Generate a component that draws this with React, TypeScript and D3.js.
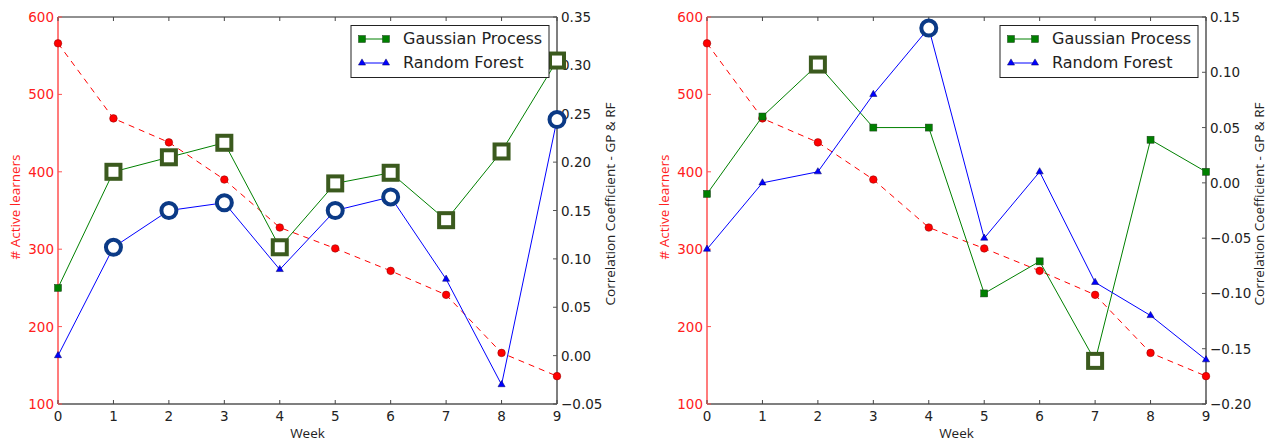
import React from "react";
import * as d3 from "d3";

const weeks = [0, 1, 2, 3, 4, 5, 6, 7, 8, 9];
const activeLearners = [566, 469, 438, 390, 328, 301, 272, 241, 166, 136];

const gpLeft = [0.07, 0.19, 0.205, 0.22, 0.112, 0.178, 0.189, 0.14, 0.211, 0.305];
const rfLeft = [0.0, 0.112, 0.15, 0.158, 0.089, 0.15, 0.164, 0.079, -0.03, 0.244];
const gpLeftSig = [false, true, true, true, true, true, true, true, true, true];
const rfLeftSig = [false, true, true, true, false, true, true, false, false, true];

const gpRight = [-0.01, 0.06, 0.107, 0.05, 0.05, -0.1, -0.071, -0.161, 0.039, 0.01];
const rfRight = [-0.06, 0.0, 0.01, 0.08, 0.14, -0.05, 0.01, -0.09, -0.12, -0.16];
const gpRightSig = [false, false, true, false, false, false, false, true, false, false];
const rfRightSig = [false, false, false, false, true, false, false, false, false, false];

const learnerTicks = [100, 200, 300, 400, 500, 600];
const leftCorrTicks = [-0.05, 0.0, 0.05, 0.1, 0.15, 0.2, 0.25, 0.3, 0.35];
const rightCorrTicks = [-0.2, -0.15, -0.1, -0.05, 0.0, 0.05, 0.1, 0.15];

const FONT = "DejaVu Sans, sans-serif";
const LABEL_FONT = "'Open Sans', DejaVu Sans, sans-serif";
const RED = "#ff0000";
const GREEN = "#008000";
const BLUE = "#0000ff";
const OLIVE = "#3b5a1e";
const NAVY = "#0b3a86";

function fmt(v: number) {
  const s = Math.abs(v).toFixed(2);
  return (v < -1e-9 ? "\u2212" : "") + s;
}

function Panel({ x0, x1, gp, rf, gpSig, rfSig, corrDomain, corrTicks, legendX }: any) {
  const top = 17, bottom = 404;
  const xs = d3.scaleLinear().domain([0, 9]).range([x0, x1]);
  const yL = d3.scaleLinear().domain([100, 600]).range([bottom, top]);
  const yR = d3.scaleLinear().domain(corrDomain).range([bottom, top]);
  const redLine = d3.line<number>().x((_, i) => xs(weeks[i])).y((d) => yL(d))(activeLearners) || "";
  const gpLine = d3.line<number>().x((_, i) => xs(weeks[i])).y((d) => yR(d))(gp) || "";
  const rfLine = d3.line<number>().x((_, i) => xs(weeks[i])).y((d) => yR(d))(rf) || "";
  const tri = d3.symbol().type(d3.symbolTriangle).size(22)() || "";
  const ly1 = 44, ly2 = 68;
  return (
    <g>
      {/* spines */}
      <line x1={x0} x2={x1} y1={top} y2={top} stroke="#222" strokeWidth={1} />
      <line x1={x0} x2={x1} y1={bottom} y2={bottom} stroke="#555" strokeWidth={1.5} />
      <line x1={x1} x2={x1} y1={top} y2={bottom} stroke="#555" strokeWidth={1.5} />
      <line x1={x0} x2={x0} y1={top} y2={bottom} stroke="#ff5050" strokeWidth={1.5} />
      {/* x ticks */}
      {weeks.map((w) => (
        <g key={"xt" + w}>
          <line x1={xs(w)} x2={xs(w)} y1={bottom} y2={bottom - 4} stroke="#444" />
          <line x1={xs(w)} x2={xs(w)} y1={top} y2={top + 4} stroke="#444" />
          <text x={xs(w)} y={421} textAnchor="middle" fontSize={13.5} fill="#222" fontFamily={FONT}>{w}</text>
        </g>
      ))}
      {/* left ticks */}
      {learnerTicks.map((t) => (
        <g key={"lt" + t}>
          <line x1={x0} x2={x0 + 4} y1={yL(t)} y2={yL(t)} stroke="#ff5050" />
          <text x={x0 - 4} y={yL(t) + 5} textAnchor="end" fontSize={13.5} fill="#ff2020" fontFamily={FONT}>{t}</text>
        </g>
      ))}
      {/* right ticks */}
      {corrTicks.map((t: number) => (
        <g key={"rt" + t}>
          <line x1={x1} x2={x1 - 4} y1={yR(t)} y2={yR(t)} stroke="#555" />
          <text x={x1 + 4} y={yR(t) + 5} textAnchor="start" fontSize={13.5} fill="#222" fontFamily={FONT}>{fmt(t)}</text>
        </g>
      ))}
      {/* axis labels */}
      <text x={(x0 + x1) / 2} y={438} textAnchor="middle" fontSize={13.5} fill="#222" fontFamily={LABEL_FONT}>Week</text>
      <text transform={`translate(${x0 - 38},207) rotate(-90)`} textAnchor="middle" fontSize={13.5} fill="#ff2020" fontFamily={LABEL_FONT}># Active learners</text>
      <text transform={`translate(${x1 + 58},204) rotate(-90)`} textAnchor="middle" fontSize={13.5} fill="#222" fontFamily={LABEL_FONT}>Correlation Coefficient - GP &amp; RF</text>
      {/* red dashed */}
      <path d={redLine} fill="none" stroke={RED} strokeWidth={1} strokeDasharray="6,5" />
      {activeLearners.map((v, i) => (
        <circle key={"rc" + i} cx={xs(weeks[i])} cy={yL(v)} r={3.8} fill={RED} stroke="#800" strokeWidth={0.5} />
      ))}
      {/* GP */}
      <path d={gpLine} fill="none" stroke={GREEN} strokeWidth={1} />
      {/* RF */}
      <path d={rfLine} fill="none" stroke={BLUE} strokeWidth={1} />
      {gp.map((v: number, i: number) =>
        gpSig[i] ? (
          <rect key={"gs" + i} x={xs(weeks[i]) - 7} y={yR(v) - 7} width={14} height={14} fill="#fff" stroke={OLIVE} strokeWidth={4} />
        ) : (
          <rect key={"gs" + i} x={xs(weeks[i]) - 3.5} y={yR(v) - 3.5} width={7} height={7} fill={GREEN} stroke="#1a3a1a" strokeWidth={0.5} />
        )
      )}
      {rf.map((v: number, i: number) =>
        rfSig[i] ? (
          <circle key={"rs" + i} cx={xs(weeks[i])} cy={yR(v)} r={7.5} fill="#fff" stroke={NAVY} strokeWidth={4} />
        ) : (
          <path key={"rs" + i} d={tri} transform={`translate(${xs(weeks[i])},${yR(v)})`} fill={BLUE} stroke="#000060" strokeWidth={0.5} />
        )
      )}
      {/* legend */}
      <rect x={legendX} y={25.5} width={198} height={52} fill="#fff" stroke="#222" strokeWidth={1} />
      <line x1={legendX + 11} x2={legendX + 35} y1={ly1 - 5} y2={ly1 - 5} stroke={GREEN} />
      <rect x={legendX + 7.5} y={ly1 - 8.5} width={7} height={7} fill={GREEN} stroke="#1a3a1a" strokeWidth={0.5} />
      <rect x={legendX + 31.5} y={ly1 - 8.5} width={7} height={7} fill={GREEN} stroke="#1a3a1a" strokeWidth={0.5} />
      <text x={legendX + 52} y={ly1} fontSize={16} fill="#222" fontFamily={FONT}>Gaussian Process</text>
      <line x1={legendX + 11} x2={legendX + 35} y1={ly2 - 5} y2={ly2 - 5} stroke={BLUE} />
      <path d={tri} transform={`translate(${legendX + 11},${ly2 - 5})`} fill={BLUE} stroke="#000060" strokeWidth={0.5} />
      <path d={tri} transform={`translate(${legendX + 35},${ly2 - 5})`} fill={BLUE} stroke="#000060" strokeWidth={0.5} />
      <text x={legendX + 52} y={ly2} fontSize={16} fill="#222" fontFamily={FONT}>Random Forest</text>
    </g>
  );
}

export default function App() {
  return (
    <svg width={1277} height={446} style={{ position: "absolute", left: 0, top: 0, background: "#fff" }}>
      <rect width={1277} height={446} fill="#fff" />
      <Panel x0={58} x1={557} gp={gpLeft} rf={rfLeft} gpSig={gpLeftSig} rfSig={rfLeftSig}
        corrDomain={[-0.05, 0.35]} corrTicks={leftCorrTicks} legendX={351} />
      <Panel x0={707} x1={1206} gp={gpRight} rf={rfRight} gpSig={gpRightSig} rfSig={rfRightSig}
        corrDomain={[-0.2, 0.15]} corrTicks={rightCorrTicks} legendX={1000} />
    </svg>
  );
}
